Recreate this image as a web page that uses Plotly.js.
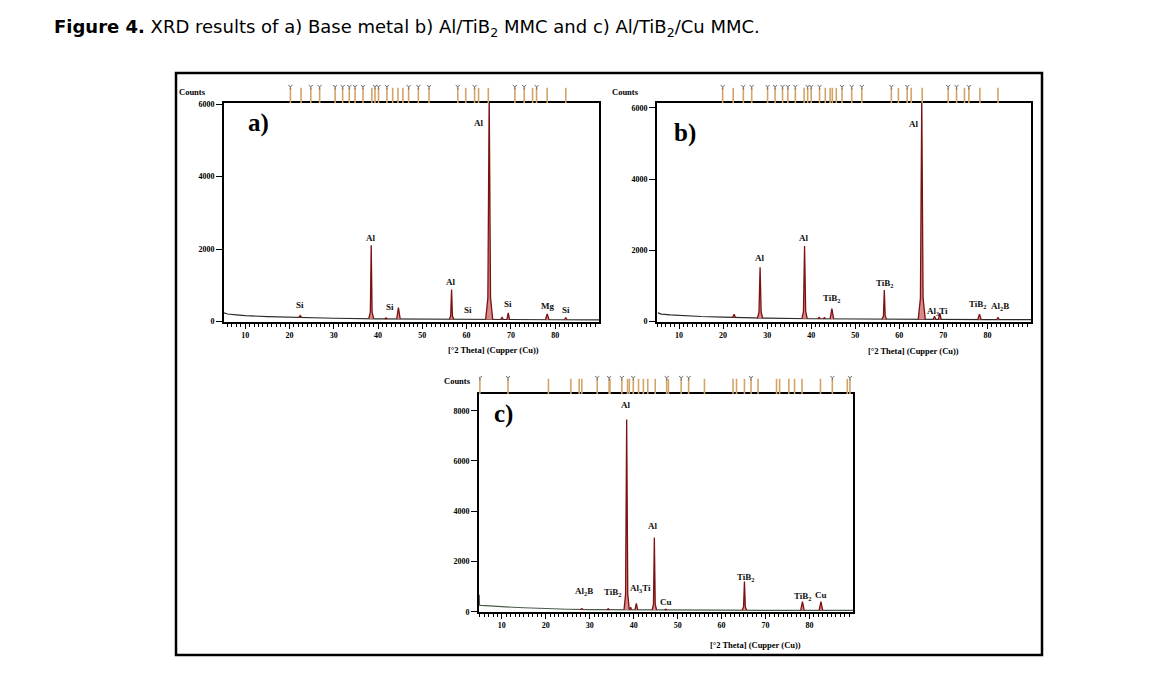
<!DOCTYPE html>
<html>
<head>
<meta charset="utf-8">
<script src="https://cdn.plot.ly/plotly-3.0.1.min.js"></script>
<style>html,body{margin:0;padding:0;background:#fff;}#chart{width:1171px;height:680px;}</style>
</head>
<body>
<div id="chart"></div>
<script>
// ---------- DATA ----------
// Panel a) Base metal : background and peaks (2theta, counts)
const aBgTheta  = [5.2, 6, 8, 10, 15, 20, 25, 30, 40, 50, 60, 70, 80, 90];
const aBgCounts = [235, 205, 180, 160, 135, 118, 100, 88, 72, 62, 56, 52, 47, 45];
const aPkTheta  = [22.1,22.4,22.7,null, 37.9,38.25,38.45,38.65,39.0,null, 41.5,41.8,42.1,null, 44.2,44.6,45.0,null,
                   56.1,56.4,56.6,56.8,57.1,null, 64.3,64.8,65.1,65.4,65.9,null, 67.7,68.0,68.3,null, 69.1,69.4,69.7,null,
                   77.8,78.2,78.6,null, 82.1,82.4,82.7];
const aPkCounts = [115,165,115,null, 75,260,2100,260,75,null, 70,100,70,null, 68,380,68,null,
                   60,150,880,150,60,null, 55,650,6300,650,55,null, 52,110,52,null, 52,240,52,null,
                   48,210,48,null, 46,110,46];
const aLabels      = ["Si","Al","Si","Al","Si","Al","Si","Mg","Si"];
const aLabelTheta  = [22.4, 38.4, 42.7, 56.5, 60.2, 62.8, 69.4, 78.2, 82.4];
const aLabelCounts = [450, 2290, 395, 1085, 310, 5470, 470, 420, 330];
const aSticks   = [20.2,22.6,24.8,26.8,30.3,32.0,33.5,34.8,36.6,38.6,39.3,40.1,42.0,43.3,44.5,45.6,46.9,49.1,51.5,58.0,59.8,61.8,62.7,64.9,70.9,73.0,74.9,75.8,78.2,82.4];
const aStickY   = [20.2,24.8,26.8,30.3,32.0,33.5,34.8,36.6,39.3,40.1,42.0,46.9,49.1,51.5,58.0,61.8,70.9,73.0,75.8];

// Panel b) Al/TiB2 MMC
const bBgTheta  = [5.2, 6, 8, 10, 15, 20, 25, 30, 40, 50, 60, 70, 80, 90];
const bBgCounts = [235, 200, 178, 160, 135, 118, 100, 88, 72, 62, 56, 52, 47, 45];
const bPkTheta  = [22.2,22.5,22.8,null, 27.8,28.15,28.4,28.65,29.0,null, 37.9,38.25,38.5,38.75,39.1,null,
                   41.5,41.8,42.1,null, 42.7,43.0,43.3,null, 44.3,44.7,45.1,null,
                   56.1,56.4,56.6,56.8,57.1,null, 64.3,64.8,65.1,65.4,65.9,null,
                   67.7,68.0,68.3,null, 68.9,69.2,69.5,null, 77.8,78.2,78.6,null, 82.1,82.4,82.7];
const bPkCounts = [115,200,115,null, 85,260,1520,260,85,null, 75,280,2120,280,75,null,
                   70,110,70,null, 68,100,68,null, 66,360,66,null,
                   60,150,880,150,60,null, 55,650,6300,650,55,null,
                   52,140,52,null, 52,230,52,null, 48,200,48,null, 46,100,46];
const bLabels      = ["Al","Al","TiB<sub>2</sub>","TiB<sub>2</sub>","Al","Al<sub>3</sub>Ti","TiB<sub>2</sub>","Al<sub>2</sub>B"];
const bLabelTheta  = [28.3, 38.4, 44.7, 56.7, 63.3, 68.6, 77.9, 82.8];
const bLabelCounts = [1790, 2340, 640, 1065, 5560, 270, 480, 410];
const bSticks   = [19.9,22.3,24.6,26.5,30.1,31.8,33.5,34.7,36.4,38.4,39.2,40.0,41.9,43.2,44.3,44.8,45.7,47.0,49.2,51.5,58.2,59.8,61.8,62.7,65.2,71.1,73.0,74.8,75.8,78.3,82.4];
const bStickY   = [19.9,24.6,26.5,30.1,31.8,33.5,34.7,36.4,39.2,40.0,41.9,47.0,49.2,51.5,58.2,61.8,71.1,73.0,75.8];

// Panel c) Al/TiB2/Cu MMC
const cBgTheta  = [4.85, 4.9, 5.3, 6, 8, 10, 15, 20, 25, 30, 35, 40, 50, 60, 70, 80, 90];
const cBgCounts = [680, 265, 255, 245, 225, 200, 160, 125, 100, 88, 80, 72, 66, 62, 58, 55, 55];
const cPkTheta  = [27.9,28.2,28.5,null, 33.9,34.2,34.5,null, 37.8,38.15,38.4,38.65,39.0,null, 39.1,39.3,39.5,null,
                   40.3,40.6,40.9,null, 44.2,44.5,44.7,44.9,45.2,null, 47.0,47.3,47.6,null,
                   64.7,65.0,65.2,65.4,65.7,null, 78.0,78.4,78.8,null, 82.2,82.6,83.0];
const cPkCounts = [88,120,88,null, 80,120,80,null, 80,700,7650,700,80,null, 76,180,76,null,
                   74,330,74,null, 70,300,2950,300,70,null, 68,100,68,null,
                   60,200,1200,200,60,null, 56,400,56,null, 55,400,55];
const cLabels      = ["Al","Al","Al<sub>2</sub>B","TiB<sub>2</sub>","Al<sub>3</sub>Ti","Cu","TiB<sub>2</sub>","TiB<sub>2</sub>","Cu"];
const cLabelTheta  = [38.3, 44.5, 28.8, 35.2, 41.6, 47.3, 65.6, 78.5, 82.7];
const cLabelCounts = [8220, 3430, 810, 770, 945, 370, 1380, 610, 680];
const cSticks   = [5.0,11.4,20.6,25.7,27.6,28.2,31.7,34.4,34.6,37.3,38.6,39.0,39.9,41.1,42.2,43.2,44.9,47.5,47.9,50.8,52.5,56.1,62.6,63.4,65.2,66.7,68.3,72.5,73.2,75.3,76.6,78.3,82.5,85.2,88.6,89.2];
const cStickY   = [5.0,11.4,31.7,34.4,37.3,39.9,47.5,50.8,52.5,66.7,85.2,89.2];

const xTickVals = [10,20,30,40,50,60,70,80];
const yTickValsAB = [0,2000,4000,6000];
const yTickValsC  = [0,2000,4000,6000,8000];
const xTitle = "[°2 Theta] (Cupper (Cu))";
const yTitle = "Counts";
const caption = "<b>Figure 4.</b> XRD results of a) Base metal b) Al/TiB<sub>2</sub> MMC and c) Al/TiB<sub>2</sub>/Cu MMC.";

// ---------- LAYOUT HELPERS ----------
const W = 1171, H = 680;
const px = v => v / W;
const py = v => 1 - v / H;
const SERIF = "Liberation Serif, Times New Roman, serif";
const PEAK_LINE = "#7a1212", PEAK_FILL = "#d98a8a", BG_LINE = "#2b2b2b";
const STICK = "#d3a468";

function stickTrace(theta, xa, ya) {
  const xs = [], ys = [];
  theta.forEach(t => { xs.push(t, t, null); ys.push(0, 0.8, null); });
  return {x: xs, y: ys, xaxis: xa, yaxis: ya, mode: "lines", line: {color: STICK, width: 1.6}, hoverinfo: "skip", showlegend: false};
}
function stickY(theta, xa, ya) {
  return {x: theta, y: theta.map(() => 0.86), xaxis: xa, yaxis: ya, mode: "markers",
    marker: {symbol: "y-down", size: 3.5, line: {color: "#6b6b6b", width: 1}}, hoverinfo: "skip", showlegend: false};
}
function bgTrace(x, y, xa, ya, color) {
  return {x, y, xaxis: xa, yaxis: ya, mode: "lines", line: {color: color || BG_LINE, width: 1.2}, showlegend: false};
}
function pkTrace(x, y, xa, ya) {
  return {x, y, xaxis: xa, yaxis: ya, mode: "lines", fill: "toself", fillcolor: PEAK_FILL,
    line: {color: PEAK_LINE, width: 1.3}, connectgaps: false, showlegend: false};
}

const traces = [
  stickTrace(aSticks, "x", "y4"), stickY(aStickY, "x", "y4"),
  bgTrace(aBgTheta, aBgCounts, "x", "y"), pkTrace(aPkTheta, aPkCounts, "x", "y"),
  stickTrace(bSticks, "x2", "y5"), stickY(bStickY, "x2", "y5"),
  bgTrace(bBgTheta, bBgCounts, "x2", "y2"), pkTrace(bPkTheta, bPkCounts, "x2", "y2"),
  stickTrace(cSticks, "x3", "y6"), stickY(cStickY, "x3", "y6"),
  bgTrace(cBgTheta, cBgCounts, "x3", "y3", "#4a5a4a"), pkTrace(cPkTheta, cPkCounts, "x3", "y3")
];

const tickFont = {family: SERIF, size: 8, color: "#000", weight: "bold"};
function xAxis(domain, range, anchor) {
  return {domain, range, anchor, tickmode: "array", tickvals: xTickVals, ticks: "outside", ticklen: 5, tickwidth: 1,
    tickcolor: "#000", showline: true, mirror: true, linecolor: "#000", linewidth: 1.8, showgrid: false, zeroline: false,
    tickfont: tickFont, fixedrange: true,
    minor: {tickmode: "linear", tick0: 0, dtick: 1, ticks: "outside", ticklen: 3, tickcolor: "#000", tickwidth: 1, showgrid: false}};
}
function yAxis(domain, range, anchor, vals) {
  return {domain, range, anchor, tickmode: "array", tickvals: vals, ticks: "outside", ticklen: 6, tickwidth: 1,
    tickcolor: "#000", showline: true, mirror: true, linecolor: "#000", linewidth: 1.8, showgrid: false, zeroline: false,
    tickfont: tickFont, fixedrange: true};
}
function stickAxis(domain, anchor) {
  return {domain, range: [0, 1], anchor, visible: false, fixedrange: true};
}

const ann = [];
function labels(names, th, ct, xa, ya) {
  names.forEach((n, i) => ann.push({text: "<b>" + n + "</b>", x: th[i], y: ct[i], xref: xa, yref: ya, showarrow: false,
    xanchor: "center", yanchor: "middle", font: {family: SERIF, size: 9, color: "#111"}}));
}
labels(aLabels, aLabelTheta, aLabelCounts, "x", "y");
labels(bLabels, bLabelTheta, bLabelCounts, "x2", "y2");
labels(cLabels, cLabelTheta, cLabelCounts, "x3", "y3");

function paperText(text, x, y, size, xanchor) {
  ann.push({text: "<b>" + text + "</b>", x: px(x), y: py(y), xref: "paper", yref: "paper", showarrow: false,
    xanchor: xanchor || "left", yanchor: "middle", font: {family: SERIF, size, color: "#000"}});
}
// Counts labels
paperText(yTitle, 177, 92, 8.5);
paperText(yTitle, 610, 92, 8.5);
paperText(yTitle, 442, 381, 8.5);
// x titles
paperText(xTitle, 493, 350, 8.5, "center");
paperText(xTitle, 913, 351, 8.5, "center");
paperText(xTitle, 755, 645, 8.5, "center");
// panel letters
paperText("a)", 246, 123, 25);
paperText("b)", 672, 133, 25);
paperText("c)", 492, 414, 25);
// caption
ann.push({text: caption, x: px(52), y: py(28), xref: "paper", yref: "paper", showarrow: false, xanchor: "left", yanchor: "middle",
  font: {family: "DejaVu Sans, Verdana, sans-serif", size: 18, color: "#000"}});

const layout = {
  width: W, height: H, margin: {l: 0, r: 0, t: 0, b: 0}, paper_bgcolor: "#fff", plot_bgcolor: "#fff",
  showlegend: false,
  xaxis:  xAxis([px(224), px(599)], [5.2, 89.9], "y"),
  yaxis:  yAxis([py(322), py(103)], [-15, 6030], "x", yTickValsAB),
  xaxis2: xAxis([px(657), px(1031)], [5.0, 89.9], "y2"),
  yaxis2: yAxis([py(322), py(103)], [-20, 6140], "x2", yTickValsAB),
  xaxis3: xAxis([px(479), px(853)], [4.8, 89.9], "y3"),
  yaxis3: yAxis([py(612), py(394)], [-10, 8665], "x3", yTickValsC),
  yaxis4: stickAxis([py(103), py(84)], "x"),
  yaxis5: stickAxis([py(103), py(84)], "x2"),
  yaxis6: stickAxis([py(394), py(375)], "x3"),
  annotations: ann,
  shapes: [{type: "rect", xref: "paper", yref: "paper", x0: px(176), x1: px(1042), y0: py(655), y1: py(73),
    line: {color: "#000", width: 2.5}, fillcolor: "rgba(0,0,0,0)"}]
};

Plotly.newPlot("chart", traces, layout, {displayModeBar: false, staticPlot: true});
</script>
</body>
</html>
